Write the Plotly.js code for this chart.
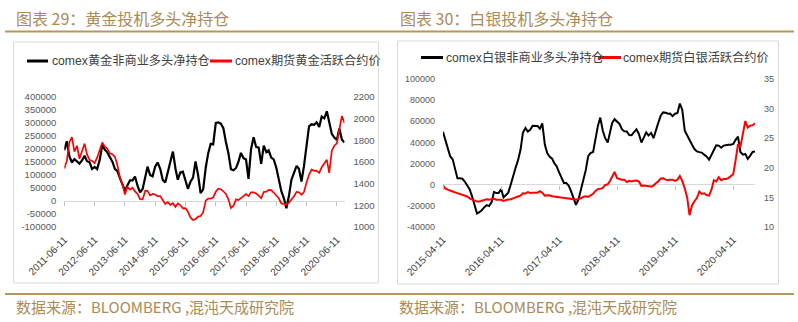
<!DOCTYPE html>
<html><head><meta charset="utf-8">
<script src="https://cdn.plot.ly/plotly-3.0.1.min.js"></script>
<style>html,body{margin:0;padding:0;background:#fff}#c{width:798px;height:322px}</style>
</head><body><div id="c"></div>
<script>
// ---------- data ----------
const goldTicks = ['2011-06-11','2012-06-11','2013-06-11','2014-06-11','2015-06-11','2016-06-11','2017-06-11','2018-06-11','2019-06-11','2020-06-11'];
const silverTicks = ['2015-04-11','2016-04-11','2017-04-11','2018-04-11','2019-04-11','2020-04-11'];
const goldLeftTicks = [-100000,-50000,0,50000,100000,150000,200000,250000,300000,350000,400000];
const goldRightTicks = [1000,1200,1400,1600,1800,2000,2200];
const silverLeftTicks = [-40000,-20000,0,20000,40000,60000,80000,100000];
const silverRightTicks = [10,15,20,25,30,35];

// gold: monthly readings 2011-06 .. 2020-09
const goldNetLong = [195000,230000,172000,148000,161000,152000,144000,156000,174000,153000,
149000,123000,131000,123000,158000,215000,198000,187000,167000,151000,
123000,116000,89000,63000,40000,60000,79000,79000,94000,58000,
33000,46000,97000,132000,100000,95000,132000,148000,124000,81000,
71000,110000,146000,190000,125000,82000,110000,113000,80000,47000,
74000,90000,152000,100000,30000,45000,128000,182000,220000,218000,
300000,302000,298000,280000,228000,183000,122000,118000,127000,150000,
185000,165000,160000,85000,200000,245000,208000,205000,143000,213000,
188000,195000,167000,160000,129000,90000,38000,10000,-28000,20000,
82000,108000,135000,124000,75000,134000,215000,287000,295000,293000,
303000,285000,325000,318000,345000,296000,258000,244000,235000,279000,
236000,225000];
const goldPrice = [1540,1610,1780,1830,1695,1750,1630,1700,1770,1670,
1620,1610,1590,1640,1722,1780,1741,1725,1680,1672,
1647,1577,1461,1400,1300,1370,1345,1362,1329,1305,
1257,1255,1333,1333,1292,1305,1300,1285,1286,1252,
1213,1230,1205,1220,1185,1218,1203,1172,1175,1141,
1088,1065,1072,1096,1102,1135,1243,1262,1262,1273,
1325,1354,1349,1330,1305,1255,1175,1197,1255,1248,
1268,1284,1303,1285,1320,1320,1309,1289,1266,1323,
1326,1342,1341,1318,1295,1265,1218,1212,1210,1225,
1251,1284,1324,1321,1298,1322,1410,1482,1530,1518,
1521,1500,1552,1584,1620,1500,1705,1750,1772,1900,
2025,1960];

// silver: half-monthly readings 2015-04-11 .. 2020-08-26
const silverNetLong = [50000,42000,34000,27000,24000,14000,6000,6000,5600,3000,
-1000,-4500,-11000,-20000,-27200,-26000,-24300,-21500,-19300,-20200,
-16500,-7000,-7800,-7800,-4000,-12000,-9800,-7500,500,9500,
16000,23000,33000,49000,53600,50300,52000,55800,55300,55500,
53000,58000,38000,30000,26500,24700,20500,17500,11600,6700,
1700,1600,-1000,-6600,-12500,-19000,-14000,-4900,4700,14000,
27000,30000,31000,43000,55600,63500,51000,44000,40000,50000,
58400,62000,60000,57500,52500,50600,50400,47000,46800,49500,
52500,48000,40000,44500,49500,46500,49000,44000,52000,58500,
65500,68400,68000,67200,67300,64900,67200,67800,76800,71000,
51000,46200,42800,38000,33700,31500,30800,30400,28400,26800,
23700,28200,32500,37200,37000,35000,37000,37600,37800,37800,
38500,42500,45500,31000,28500,29200,24500,27300,31000,31500];
const silverPrice = [17.0,16.5,16.3,16.1,16.0,15.85,15.7,15.6,15.45,15.3,
15.15,14.85,14.7,14.5,14.3,14.3,14.45,14.6,14.7,14.6,
14.7,14.75,14.6,14.65,14.6,14.4,14.55,14.65,14.7,14.8,
15.0,15.15,15.3,15.7,15.65,15.9,15.75,15.8,15.75,15.8,
16.05,15.8,15.3,15.35,15.35,15.2,15.15,15.15,15.15,15.0,
15.0,14.9,14.8,14.8,14.7,14.6,14.7,14.85,15.1,15.2,
15.1,15.3,15.6,16.1,16.4,16.45,16.6,17.1,17.2,17.8,
18.4,19.3,18.25,18.1,18.0,18.0,17.6,17.8,17.7,17.8,
17.85,17.7,16.95,17.0,17.0,16.9,16.8,17.0,17.4,17.7,
18.2,18.25,18.0,17.9,18.0,18.0,17.8,18.0,18.6,17.8,
16.5,15.0,12.0,13.6,14.35,14.9,16.0,15.6,15.7,15.4,
15.3,16.3,17.9,17.7,18.4,17.9,18.1,18.1,18.25,18.55,
18.9,21.3,24.0,23.5,25.6,27.9,26.8,27.1,27.2,27.5];

// regular date categories
function monthDates(y, m, n, days) {
  const out = []; let yy = y, mm = m;
  for (let i = 0; i < n; i++) {
    for (const d of days) out.push(yy + '-' + String(mm).padStart(2, '0') + '-' + d);
    mm++; if (mm > 12) { mm = 1; yy++; }
  }
  return out;
}
const goldDates = monthDates(2011, 6, 112, ['11']);
const silverDates = monthDates(2015, 4, 65, ['11', '26']);

// ---------- layout helpers ----------
const W = 798, H = 322;
const px = v => v / W, py = v => 1 - v / H;
const lab = a => a.map(v => String(v));
const tickFont = {family: 'Liberation Sans, Arial, sans-serif', size: 9.5, color: '#595959'};
const dateFont = {family: 'Liberation Sans, Arial, sans-serif', size: 10, color: '#404040'};
const legFont = {family: 'Liberation Sans, Noto Sans CJK SC, sans-serif', size: 12.2, color: '#404040'};
const brownText = '#ab8a55', brownRule = '#b8975f';
const cjk = 'Noto Sans CJK SC, sans-serif';

const gY = [py(227), py(97)];
const sY = [py(227), py(79)];
const gZero = gY[0] + (gY[1] - gY[0]) * (100000 / 500000);
const sZero = sY[0] + (sY[1] - sY[0]) * (40000 / 140000);

const traces = [
  {x: goldDates, y: goldNetLong, xaxis: 'x', yaxis: 'y', type: 'scatter', mode: 'lines', line: {color: '#000000', width: 2.2}, hoverinfo: 'skip'},
  {x: goldDates, y: goldPrice, xaxis: 'x', yaxis: 'y2', type: 'scatter', mode: 'lines', line: {color: '#ff0000', width: 1.7}, hoverinfo: 'skip'},
  {x: [], y: [], xaxis: 'x3', yaxis: 'y', type: 'scatter', mode: 'lines', hoverinfo: 'skip'},
  {x: silverDates, y: silverNetLong, xaxis: 'x2', yaxis: 'y3', type: 'scatter', mode: 'lines', line: {color: '#000000', width: 2}, hoverinfo: 'skip'},
  {x: silverDates, y: silverPrice, xaxis: 'x2', yaxis: 'y4', type: 'scatter', mode: 'lines', line: {color: '#ff0000', width: 2}, hoverinfo: 'skip'},
  {x: [], y: [], xaxis: 'x4', yaxis: 'y3', type: 'scatter', mode: 'lines', hoverinfo: 'skip'}
];

const baseX = {type: 'date', showgrid: false, zeroline: false, showline: false, ticks: '', fixedrange: true};
const baseY = {showgrid: false, showline: false, ticks: '', fixedrange: true, tickfont: tickFont, ticklabelstandoff: 7};

const layout = {
  width: W, height: H, margin: {l: 0, r: 0, t: 0, b: 0},
  paper_bgcolor: '#ffffff', plot_bgcolor: 'rgba(0,0,0,0)', showlegend: false,
  xaxis: Object.assign({}, baseX, {domain: [px(64.3), px(344.5)], range: ['2011-06-11', '2020-09-11'], anchor: 'y',
    tickmode: 'array', tickvals: goldTicks, ticktext: goldTicks, tickangle: -45, tickfont: dateFont, ticklabelstandoff: 4}),
  xaxis3: Object.assign({}, baseX, {overlaying: 'x', anchor: 'free', position: gZero, range: ['2011-06-11', '2020-09-11'],
    tickmode: 'array', tickvals: goldTicks, showticklabels: false, ticks: 'outside', ticklen: 4, tickcolor: '#bfbfbf', tickwidth: 1}),
  yaxis: Object.assign({}, baseY, {domain: gY, range: [-100000, 400000], anchor: 'x', tickmode: 'array', tickvals: goldLeftTicks, ticktext: lab(goldLeftTicks),
    zeroline: true, zerolinecolor: '#d9d9d9', zerolinewidth: 1}),
  yaxis2: Object.assign({}, baseY, {overlaying: 'y', side: 'right', anchor: 'x', range: [1000, 2200], tickmode: 'array', tickvals: goldRightTicks, ticktext: lab(goldRightTicks), zeroline: false, ticklabelstandoff: 8}),

  xaxis2: Object.assign({}, baseX, {domain: [px(443), px(755)], range: ['2015-04-11', '2020-08-26'], anchor: 'y3',
    tickmode: 'array', tickvals: silverTicks, ticktext: silverTicks, tickangle: -45, tickfont: dateFont, ticklabelstandoff: 4}),
  xaxis4: Object.assign({}, baseX, {overlaying: 'x2', anchor: 'free', position: sZero, range: ['2015-04-11', '2020-08-26'],
    tickmode: 'array', tickvals: silverTicks, showticklabels: false, ticks: 'outside', ticklen: 4, tickcolor: '#bfbfbf', tickwidth: 1}),
  yaxis3: Object.assign({}, baseY, {domain: sY, range: [-40000, 100000], anchor: 'x2', tickmode: 'array', tickvals: silverLeftTicks, ticktext: lab(silverLeftTicks),
    zeroline: true, zerolinecolor: '#d9d9d9', zerolinewidth: 1, tickfont: Object.assign({}, tickFont, {size: 9})}),
  yaxis4: Object.assign({}, baseY, {overlaying: 'y3', side: 'right', anchor: 'x2', range: [10, 35], tickmode: 'array', tickvals: silverRightTicks, ticktext: lab(silverRightTicks), zeroline: false,
    tickfont: Object.assign({}, tickFont, {size: 9}), ticklabelstandoff: 8}),

  shapes: [
    // header / footer rules
    {type: 'line', xref: 'paper', yref: 'paper', x0: px(5), x1: px(794), y0: py(31.5), y1: py(31.5), line: {color: brownRule, width: 2}},
    {type: 'line', xref: 'paper', yref: 'paper', x0: px(5), x1: px(794), y0: py(294), y1: py(294), line: {color: brownRule, width: 2}},
    // chart frames
    {type: 'rect', xref: 'paper', yref: 'paper', x0: px(13.5), x1: px(378.5), y0: py(283), y1: py(42), line: {color: '#d9d9d9', width: 1}},
    {type: 'rect', xref: 'paper', yref: 'paper', x0: px(397.5), x1: px(778.5), y0: py(284), y1: py(41), line: {color: '#d9d9d9', width: 1}},
    // legend keys
    {type: 'line', xref: 'paper', yref: 'paper', x0: px(27), x1: px(48), y0: py(61), y1: py(61), line: {color: '#000000', width: 3}},
    {type: 'line', xref: 'paper', yref: 'paper', x0: px(210), x1: px(232), y0: py(61), y1: py(61), line: {color: '#ff0000', width: 3}},
    {type: 'line', xref: 'paper', yref: 'paper', x0: px(421), x1: px(443), y0: py(57.5), y1: py(57.5), line: {color: '#000000', width: 3}},
    {type: 'line', xref: 'paper', yref: 'paper', x0: px(598), x1: px(621), y0: py(57.5), y1: py(57.5), line: {color: '#ff0000', width: 3}}
  ],
  annotations: [
    {text: '图表 29：黄金投机多头净持仓', xref: 'paper', yref: 'paper', x: px(14), y: py(18), xanchor: 'left', yanchor: 'middle', showarrow: false, font: {family: cjk, size: 16, color: brownText}},
    {text: '图表 30：白银投机多头净持仓', xref: 'paper', yref: 'paper', x: px(398), y: py(18), xanchor: 'left', yanchor: 'middle', showarrow: false, font: {family: cjk, size: 16, color: brownText}},
    {text: '数据来源：BLOOMBERG ,混沌天成研究院', xref: 'paper', yref: 'paper', x: px(14), y: py(306), xanchor: 'left', yanchor: 'middle', showarrow: false, font: {family: cjk, size: 15, color: brownText}},
    {text: '数据来源：BLOOMBERG ,混沌天成研究院', xref: 'paper', yref: 'paper', x: px(397), y: py(306), xanchor: 'left', yanchor: 'middle', showarrow: false, font: {family: cjk, size: 15, color: brownText}},
    {text: 'comex黄金非商业多头净持仓', xref: 'paper', yref: 'paper', x: px(50), y: py(61), xanchor: 'left', yanchor: 'middle', showarrow: false, font: legFont},
    {text: 'comex期货黄金活跃合约价', xref: 'paper', yref: 'paper', x: px(233), y: py(61), xanchor: 'left', yanchor: 'middle', showarrow: false, font: legFont},
    {text: 'comex白银非商业多头净持仓', xref: 'paper', yref: 'paper', x: px(444), y: py(57.5), xanchor: 'left', yanchor: 'middle', showarrow: false, font: legFont},
    {text: 'comex期货白银活跃合约价', xref: 'paper', yref: 'paper', x: px(621), y: py(57.5), xanchor: 'left', yanchor: 'middle', showarrow: false, font: legFont}
  ]
};

Plotly.newPlot('c', traces, layout, {staticPlot: true, displayModeBar: false});
</script></body></html>
